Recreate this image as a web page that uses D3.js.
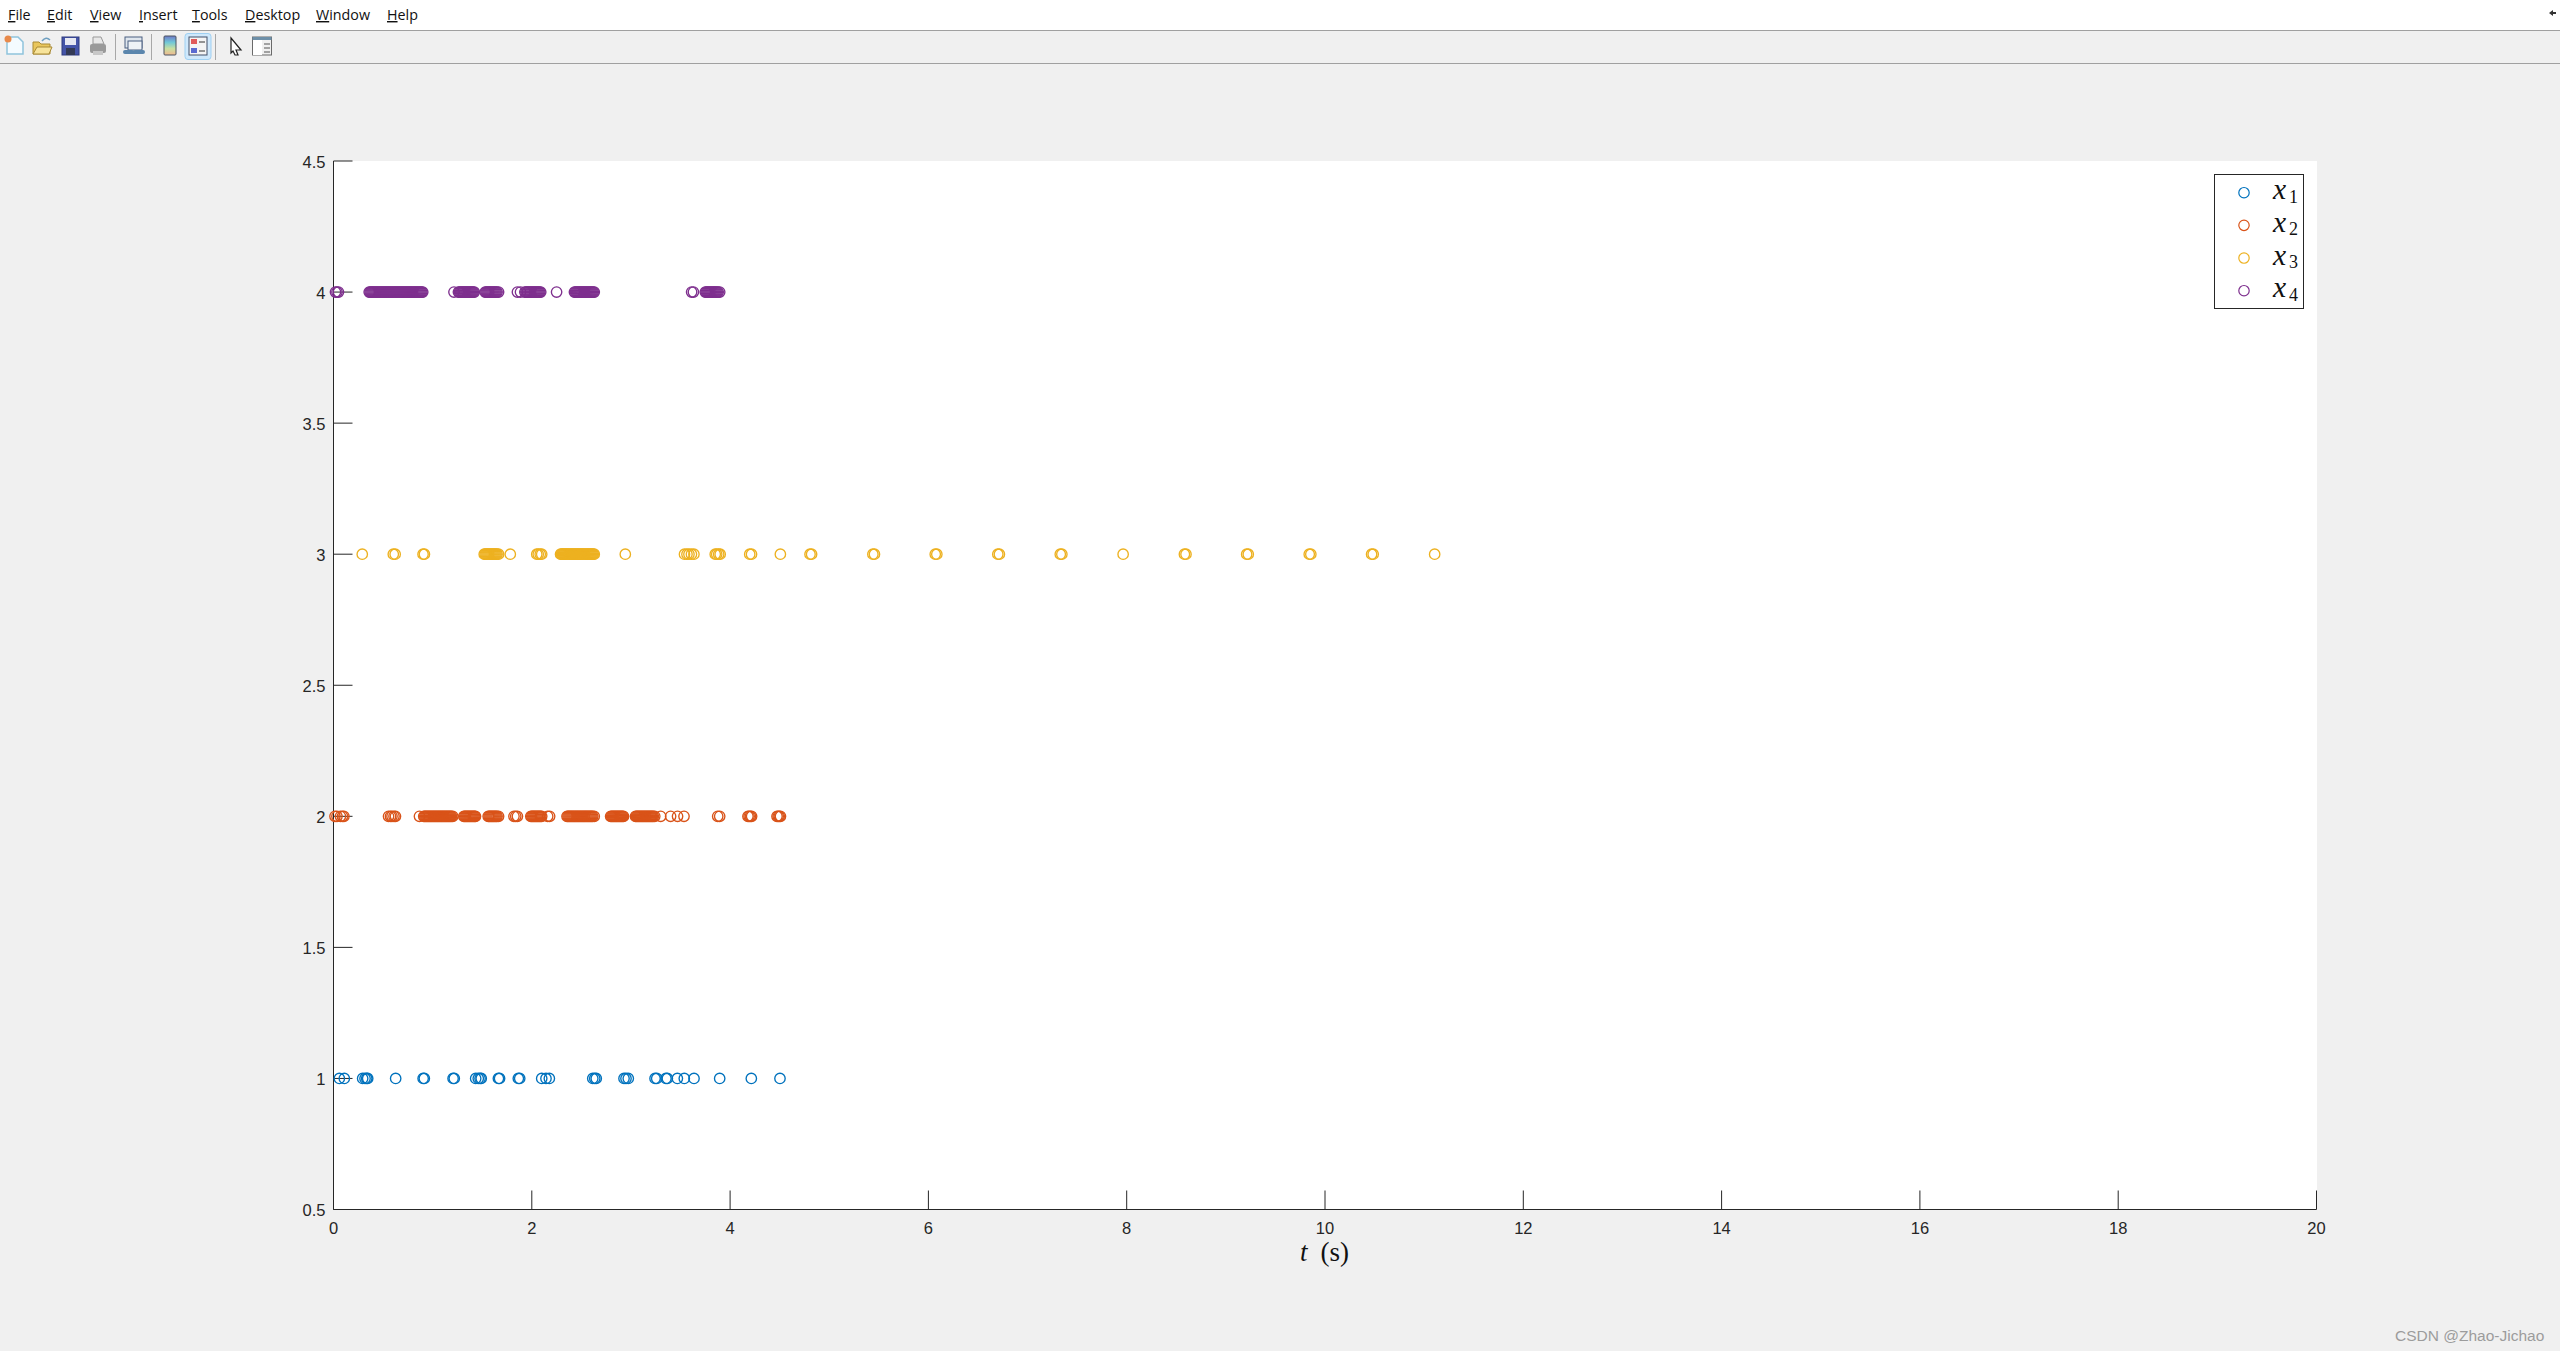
<!DOCTYPE html>
<html>
<head>
<meta charset="utf-8">
<title>x1..x4 events</title>
<script src="https://d3js.org/d3.v7.min.js"></script>
<style>
  html, body { margin: 0; padding: 0; background: #f0f0f0; overflow: hidden; }
  .menuLb { font-family: "Open Sans", "Noto Sans", sans-serif; font-size: 14.3px; fill: #111; }
  .tick text { font-family: "Liberation Sans", Arial, sans-serif; font-size: 16.5px; fill: #262626; }
  .mathLb { font-family: "Liberation Serif", serif; fill: #111; }
</style>
</head>
<body>
<div id="main"></div>
<script>
// event times (s), one list per state
var x1Times = [0.059, 0.109, 0.294, 0.318, 0.335, 0.345, 0.627, 0.904, 0.916, 1.206, 1.218,
  1.434, 1.46, 1.478, 1.49, 1.663, 1.675, 1.864, 1.878, 2.10, 2.143, 2.177, 2.615, 2.635, 2.65,
  2.93, 2.95, 2.973, 3.243, 3.26, 3.353, 3.367, 3.468, 3.538, 3.636, 3.895, 4.214, 4.503];
var x2Times = [0.015, 0.035, 0.07, 0.09, 0.105, 0.555, 0.575, 0.59, 0.61, 0.625, 0.867, 0.91,
  0.92, 0.93, 0.94, 0.95, 0.96, 0.97, 0.98, 0.99, 1.00, 1.01, 1.02, 1.03, 1.04, 1.05, 1.06, 1.07,
  1.08, 1.09, 1.10, 1.11, 1.12, 1.13, 1.14, 1.15, 1.16, 1.17, 1.18, 1.19, 1.203,
  1.314, 1.324, 1.334, 1.344, 1.354, 1.364, 1.374, 1.384, 1.394, 1.404, 1.414, 1.424, 1.432,
  1.56, 1.57, 1.58, 1.59, 1.60, 1.61, 1.62, 1.63, 1.64, 1.65, 1.665, 1.82, 1.838, 1.855,
  1.99, 2.00, 2.01, 2.02, 2.03, 2.04, 2.05, 2.06, 2.07, 2.08, 2.09, 2.10, 2.16, 2.18,
  2.355, 2.365, 2.375, 2.385, 2.395, 2.405, 2.415, 2.425, 2.435, 2.445, 2.455, 2.465, 2.475, 2.485,
  2.495, 2.505, 2.515, 2.525, 2.535, 2.545, 2.555, 2.565, 2.575, 2.585, 2.595, 2.605, 2.615, 2.63,
  2.795, 2.805, 2.815, 2.825, 2.835, 2.845, 2.855, 2.865, 2.875, 2.885, 2.895, 2.905, 2.915, 2.925,
  3.046, 3.056, 3.066, 3.076, 3.086, 3.096, 3.106, 3.116, 3.126, 3.136, 3.146, 3.156, 3.166, 3.176,
  3.186, 3.196, 3.206, 3.216, 3.226, 3.24, 3.30, 3.40, 3.47, 3.535, 3.875, 3.895,
  4.18, 4.192, 4.205, 4.217, 4.473, 4.485, 4.496, 4.508];
var x3Times = [0.29, 0.603, 0.622, 0.903, 0.917, 1.52, 1.53, 1.54, 1.55, 1.56, 1.57, 1.58, 1.59,
  1.60, 1.61, 1.62, 1.63, 1.64, 1.65, 1.665, 1.783, 2.05, 2.065, 2.085, 2.10,
  2.29, 2.30, 2.31, 2.32, 2.33, 2.34, 2.35, 2.36, 2.37, 2.38, 2.39, 2.40, 2.41, 2.42, 2.43, 2.44,
  2.45, 2.46, 2.47, 2.48, 2.49, 2.50, 2.51, 2.52, 2.53, 2.54, 2.55, 2.56, 2.57, 2.58, 2.59, 2.60,
  2.61, 2.62, 2.63, 2.943, 3.54, 3.565, 3.585, 3.61, 3.635, 3.85, 3.865, 3.885, 3.90,
  4.198, 4.216, 4.507, 4.806, 4.822, 5.44, 5.456, 6.069, 6.085, 6.70, 6.716, 7.33, 7.346, 7.964,
  8.582, 8.598, 9.21, 9.226, 9.841, 9.857, 10.47, 10.486, 11.106];
var x4Times = [0.02, 0.035, 0.05, 0.36, 0.37, 0.38, 0.39, 0.40, 0.41, 0.42, 0.43, 0.44, 0.45, 0.46,
  0.47, 0.48, 0.49, 0.50, 0.51, 0.52, 0.53, 0.54, 0.55, 0.56, 0.57, 0.58, 0.59, 0.60, 0.61, 0.62,
  0.63, 0.64, 0.65, 0.66, 0.67, 0.68, 0.69, 0.70, 0.71, 0.72, 0.73, 0.74, 0.75, 0.76, 0.77, 0.78,
  0.79, 0.80, 0.81, 0.82, 0.83, 0.84, 0.85, 0.86, 0.87, 0.88, 0.89, 0.90,
  1.215, 1.26, 1.27, 1.28, 1.29, 1.30, 1.31, 1.32, 1.33, 1.34, 1.35, 1.36, 1.37, 1.38, 1.39, 1.40,
  1.41, 1.42, 1.53, 1.54, 1.55, 1.56, 1.57, 1.58, 1.59, 1.60, 1.61, 1.62, 1.63, 1.64, 1.65, 1.665,
  1.855, 1.886, 1.93, 1.94, 1.95, 1.96, 1.97, 1.98, 1.99, 2.00, 2.01, 2.02, 2.03, 2.04, 2.05, 2.06,
  2.07, 2.08, 2.09, 2.25, 2.43, 2.44, 2.45, 2.46, 2.47, 2.48, 2.49, 2.50, 2.51, 2.52, 2.53, 2.54,
  2.55, 2.56, 2.57, 2.58, 2.59, 2.60, 2.61, 2.62, 2.63, 3.612, 3.63,
  3.75, 3.76, 3.77, 3.78, 3.79, 3.80, 3.81, 3.82, 3.83, 3.84, 3.85, 3.86, 3.87, 3.88, 3.895];

var seriesTimes = [x1Times, x2Times, x3Times, x4Times];
var seriesLevels = [1, 2, 3, 4];
var seriesColors = ["#0072BD", "#D95319", "#EDB120", "#7E2F8E"];
var legendSubs = ["1", "2", "3", "4"];
var xTicks = [0, 2, 4, 6, 8, 10, 12, 14, 16, 18, 20];
var yTicks = [0.5, 1, 1.5, 2, 2.5, 3, 3.5, 4, 4.5];
var menuItems = [["File", 8], ["Edit", 47], ["View", 90], ["Insert", 139], ["Tools", 192],
                 ["Desktop", 245], ["Window", 316], ["Help", 387]];

var ctx = {
    w: 2560,
    h: 1351,
    left: 333.5,
    right: 2316.5,
    top: 161,
    bottom: 1209.5,
    tickLen: 19,
    r: 5.2
};

var drawChrome = function(svg){
    var g = svg.append("g").attr("id", "chromeG");
    g.append("rect").attr("width", ctx.w).attr("height", 30).attr("fill", "#ffffff");
    g.append("line").attr("x1", 0).attr("x2", ctx.w).attr("y1", 30.5).attr("y2", 30.5).attr("stroke", "#a0a0a0");
    g.append("line").attr("x1", 0).attr("x2", ctx.w).attr("y1", 63.5).attr("y2", 63.5).attr("stroke", "#a0a0a0");

    // menu entries, first letter underlined
    menuItems.forEach(function(m){
        var t = g.append("text").attr("class", "menuLb").attr("x", m[1]).attr("y", 20);
        t.append("tspan").attr("text-decoration", "underline").text(m[0].charAt(0));
        t.append("tspan").text(m[0].slice(1));
    });

    // toolbar separators
    [115.5, 151.5, 215.5].forEach(function(x){
        g.append("line").attr("x1", x).attr("x2", x).attr("y1", 34).attr("y2", 60).attr("stroke", "#a8a8a8");
    });

    // new file
    g.append("path").attr("d", "M7,37H18L23,42V54H7Z").attr("fill", "#f4fbff").attr("stroke", "#8fc3dc").attr("stroke-width", 1.5);
    g.append("circle").attr("cx", 8).attr("cy", 39).attr("r", 3.5).attr("fill", "#e8894a");
    // open folder
    g.append("path").attr("d", "M33,42H39L41,44H50V54H33Z").attr("fill", "#e9c65c").attr("stroke", "#a98a35");
    g.append("path").attr("d", "M33,54L37,47H52L49,54Z").attr("fill", "#f7e39a").attr("stroke", "#a98a35");
    g.append("path").attr("d", "M42,41Q46,36 50,40").attr("fill", "none").attr("stroke", "#6f9fc0").attr("stroke-width", 1.5);
    // save
    g.append("rect").attr("x", 62).attr("y", 37).attr("width", 17).attr("height", 18).attr("fill", "#4454a8").attr("stroke", "#2f3a7e");
    g.append("rect").attr("x", 65).attr("y", 38).attr("width", 11).attr("height", 7).attr("fill", "#e6e8f2");
    g.append("rect").attr("x", 66).attr("y", 48).attr("width", 9).attr("height", 7).attr("fill", "#333a55");
    // print
    g.append("path").attr("d", "M93,37H101L104,44H93Z").attr("fill", "#e8e8e8").attr("stroke", "#999");
    g.append("rect").attr("x", 90).attr("y", 44).attr("width", 16).attr("height", 9).attr("rx", 2).attr("fill", "#9a9a9a");
    g.append("rect").attr("x", 93).attr("y", 51).attr("width", 10).attr("height", 4).attr("fill", "#c8c8c8");
    // link figure
    g.append("rect").attr("x", 125).attr("y", 37).attr("width", 17).attr("height", 11).attr("fill", "#dfe6ee").attr("stroke", "#4a5f80");
    g.append("rect").attr("x", 128).attr("y", 41).attr("width", 14).attr("height", 9).attr("fill", "#eef2f6").attr("stroke", "#4a5f80");
    g.append("path").attr("d", "M125,52H132M135,52H143").attr("stroke", "#5b86ad").attr("stroke-width", 4).attr("stroke-linecap", "round");
    // colorbar
    var grad = svg.append("defs").append("linearGradient").attr("id", "cbGrad").attr("x1", 0).attr("x2", 0).attr("y1", 0).attr("y2", 1);
    ["#6f78c8", "#6fc8d8", "#c8e0a0", "#f0b890"].forEach(function(c, i){
        grad.append("stop").attr("offset", i / 3).attr("stop-color", c);
    });
    g.append("rect").attr("x", 164).attr("y", 36).attr("width", 12).attr("height", 19).attr("rx", 1).attr("fill", "url(#cbGrad)").attr("stroke", "#4a5560");
    // legend button (pressed)
    g.append("rect").attr("x", 185).attr("y", 33.5).attr("width", 26).attr("height", 26).attr("rx", 3).attr("fill", "#cfe8fb").attr("stroke", "#9fd0f2");
    g.append("rect").attr("x", 189).attr("y", 37).attr("width", 18).attr("height", 18).attr("fill", "#f4f4f4").attr("stroke", "#44506a");
    g.append("rect").attr("x", 191).attr("y", 39).attr("width", 6).attr("height", 5).attr("fill", "#e05a5a");
    g.append("rect").attr("x", 191).attr("y", 48).attr("width", 6).attr("height", 5).attr("fill", "#5a6ad0");
    g.append("path").attr("d", "M199,42H205M199,51H205").attr("stroke", "#333");
    // pointer
    g.append("path").attr("d", "M231,38L241,50H236L238,55L235,55L233,51L231,53Z").attr("fill", "#fff").attr("stroke", "#222").attr("stroke-width", 1.2);
    // plot browser
    g.append("rect").attr("x", 252.5).attr("y", 37).attr("width", 19).attr("height", 18).attr("fill", "#f0f0f0").attr("stroke", "#6a6a6a");
    g.append("rect").attr("x", 252.5).attr("y", 37).attr("width", 19).attr("height", 3).attr("fill", "#6d8fa8");
    g.append("rect").attr("x", 253).attr("y", 40).attr("width", 9).attr("height", 15).attr("fill", "#fff");
    g.append("path").attr("d", "M264,44H270M264,48H270M264,52H270").attr("stroke", "#555");
    // undock arrow at far right
    g.append("path").attr("d", "M2549,13L2553,10V12H2556V14H2553V16Z").attr("fill", "#333");
};

var drawAxes = function(svg){
    ctx.xScale = d3.scaleLinear().domain([0, 20]).range([ctx.left, ctx.right]);
    ctx.yScale = d3.scaleLinear().domain([0.5, 4.5]).range([ctx.bottom, ctx.top]);

    var g = svg.append("g").attr("id", "bkgG");
    g.append("rect")
      .attr("x", ctx.left - 0.5).attr("y", ctx.top)
      .attr("width", ctx.right - ctx.left + 1).attr("height", ctx.bottom - ctx.top)
      .attr("fill", "#ffffff");

    // ticks point inward, no top/right box
    var xAxis = d3.axisBottom(ctx.xScale).tickValues(xTicks).tickFormat(d3.format("d"))
      .tickSizeInner(-ctx.tickLen).tickSizeOuter(0).tickPadding(10).offset(0);
    var yAxis = d3.axisLeft(ctx.yScale).tickValues(yTicks).tickFormat(function(d){ return String(d); })
      .tickSizeInner(-ctx.tickLen).tickSizeOuter(0).tickPadding(8).offset(0);

    var gx = g.append("g").attr("transform", `translate(0,${ctx.bottom})`).call(xAxis);
    var gy = g.append("g").attr("transform", `translate(${ctx.left},0)`).call(yAxis);
    [gx, gy].forEach(function(a){
        a.selectAll("path.domain").attr("stroke", "#262626");
        a.selectAll(".tick line").attr("stroke", "#262626");
    });
    gx.selectAll(".tick text").attr("y", 13).attr("dy", "0.71em");
    gy.selectAll(".tick text").attr("dy", "0.42em");

    // x-axis label
    var lb = g.append("text").attr("class", "mathLb").attr("x", 1300).attr("y", 1261).attr("font-size", 27);
    lb.append("tspan").attr("font-style", "italic").text("t");
    lb.append("tspan").attr("dx", 13).text("(s)");
};

var drawMarks = function(svg){
    var rootG = svg.append("g").attr("id", "rootG");
    seriesTimes.forEach(function(times, i){
        rootG.append("g").attr("class", "series")
          .selectAll("circle")
          .data(times)
          .enter()
          .append("circle")
          .attr("cx", function(d){ return ctx.xScale(d); })
          .attr("cy", ctx.yScale(seriesLevels[i]))
          .attr("r", ctx.r)
          .attr("fill", "none")
          .attr("stroke", seriesColors[i])
          .attr("stroke-width", 1.35);
    });
};

var drawLegend = function(svg){
    var g = svg.append("g").attr("id", "legendG");
    g.append("rect").attr("x", 2214.5).attr("y", 174.5).attr("width", 89).attr("height", 134)
      .attr("fill", "#ffffff").attr("stroke", "#262626");
    var rowY = d3.scalePoint().domain(legendSubs).range([192.7, 290.7]);
    legendSubs.forEach(function(s, i){
        g.append("circle").attr("cx", 2244).attr("cy", rowY(s)).attr("r", ctx.r)
          .attr("fill", "none").attr("stroke", seriesColors[i]).attr("stroke-width", 1.2);
        g.append("text").attr("class", "mathLb").attr("x", 2273).attr("y", rowY(s) + 6.6)
          .attr("font-size", 29.5).attr("font-style", "italic").attr("font-weight", 300).text("x");
        g.append("text").attr("class", "mathLb").attr("x", 2289).attr("y", rowY(s) + 10)
          .attr("font-size", 18).text(s);
    });
};

var createViz = function(){
    var svgEl = d3.select("#main").append("svg")
      .attr("width", ctx.w).attr("height", ctx.h)
      .style("display", "block");
    svgEl.append("rect").attr("width", ctx.w).attr("height", ctx.h).attr("fill", "#f0f0f0");
    drawChrome(svgEl);
    drawAxes(svgEl);
    drawMarks(svgEl);
    drawLegend(svgEl);
    // watermark
    svgEl.append("text").attr("x", 2395).attr("y", 1341)
      .attr("font-family", "'Liberation Sans', Arial, sans-serif").attr("font-size", 15.5)
      .attr("fill", "#9c9c9c").text("CSDN @Zhao-Jichao");
};

createViz();
</script>
</body>
</html>
